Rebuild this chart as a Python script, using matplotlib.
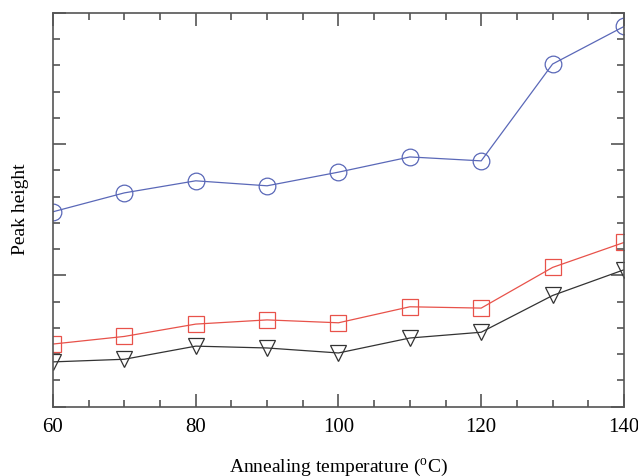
import matplotlib
matplotlib.use('Agg')
import matplotlib.pyplot as plt
from matplotlib.ticker import MultipleLocator, NullFormatter

plt.rcParams['font.family'] = 'Liberation Serif'
plt.rcParams['mathtext.fontset'] = 'custom'
plt.rcParams['mathtext.rm'] = 'Liberation Serif'

# Peak heights vs annealing temperature
temperature = [60, 70, 80, 90, 100, 110, 120, 130, 140]
circles = [7.42, 8.14, 8.60, 8.41, 8.93, 9.51, 9.36, 13.05, 14.48]
squares = [2.38, 2.67, 3.14, 3.30, 3.19, 3.80, 3.75, 5.30, 6.25]
triangles = [1.70, 1.80, 2.30, 2.23, 2.04, 2.61, 2.83, 4.23, 5.21]

fig = plt.figure(figsize=(6.38, 4.76), dpi=100)
ax = fig.add_axes([0.083, 0.146, 0.895, 0.827])

ax.plot(temperature, circles, color='#5a68b8', lw=0.9, marker='o', ms=12,
        mfc='none', mec='#5a68b8', mew=0.9)
ax.plot(temperature, squares, color='#e8524a', lw=0.9, marker='s', ms=11,
        mfc='none', mec='#e8524a', mew=0.9)
ax.plot(temperature, triangles, color='#333333', lw=0.9, marker='v', ms=11,
        mfc='none', mec='#333333', mew=0.9)

ax.set_xlim(60, 140)
ax.set_ylim(0, 15)
ax.xaxis.set_major_locator(MultipleLocator(20))
ax.xaxis.set_minor_locator(MultipleLocator(5))
ax.yaxis.set_major_locator(MultipleLocator(5))
ax.yaxis.set_minor_locator(MultipleLocator(1))
ax.yaxis.set_major_formatter(NullFormatter())

ax.tick_params(which='both', direction='in', top=True, right=True,
               color='#555555', width=1.2, labelsize=15)
ax.tick_params(which='major', length=9.5, pad=8)
ax.tick_params(which='minor', length=5)
for s in ax.spines.values():
    s.set_color('#555555')
    s.set_linewidth(1.2)

ax.set_xlabel('Annealing temperature ($^{\\mathrm{o}}$C)', fontsize=14, labelpad=14)
ax.set_ylabel('Peak height', fontsize=14, labelpad=9)

fig.savefig('out.png', dpi=100)
